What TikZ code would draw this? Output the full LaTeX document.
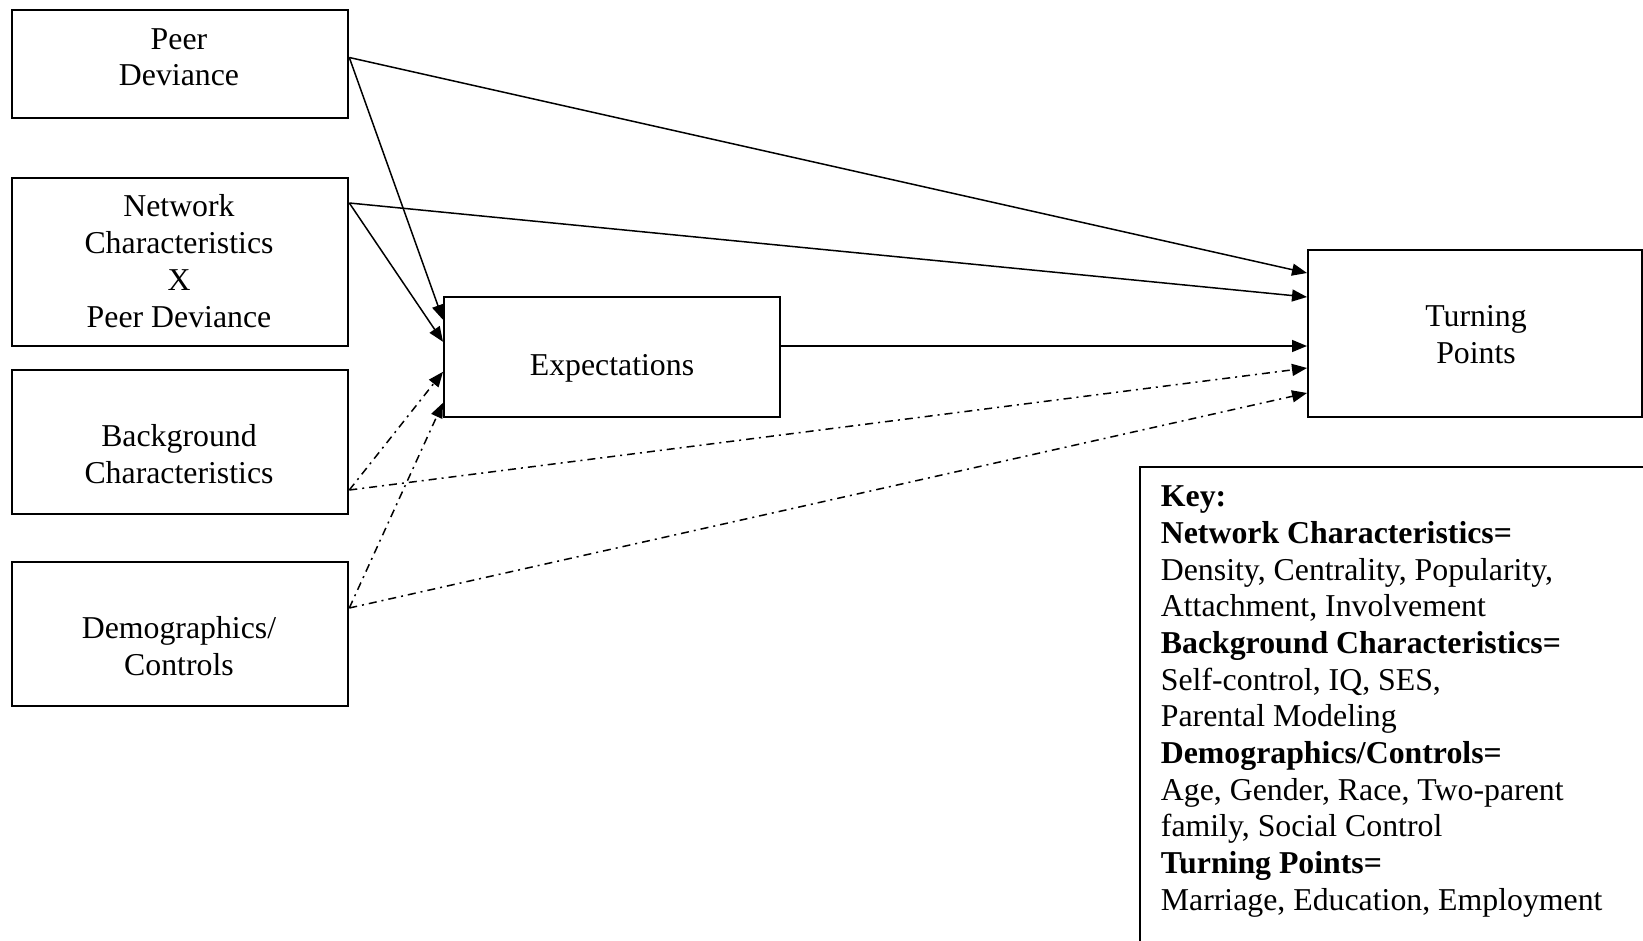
\documentclass[tikz,border=0pt]{standalone}
\usepackage{fontspec}
\setmainfont{Liberation Serif}
\usetikzlibrary{arrows.meta}
\begin{document}
\begin{tikzpicture}[x=1pt,y=-1pt,
  box/.style={draw,line width=2pt,rectangle,inner sep=0pt},
  txt/.style={align=center,font=\fontsize{31.8}{36.7}\selectfont,inner sep=0pt,anchor=base},
  keytxt/.style={font=\fontsize{31.8}{36.7}\selectfont,inner sep=0pt,anchor=base west},
  conn/.style={line width=1.5pt,-{Triangle[length=15pt,width=12pt]}},
  dd/.style={conn,dash pattern=on 8pt off 5pt on 2pt off 5pt}]
\clip (0,0) rectangle (1643,941);
\fill[white] (0,0) rectangle (1643,941);

% boxes
\node[box,minimum width=336.6pt,minimum height=108pt] (peer) at (180,64) {};
\node[box,minimum width=336.6pt,minimum height=168pt] (net) at (180,262) {};
\node[box,minimum width=336.6pt,minimum height=144pt] (bg) at (180,442) {};
\node[box,minimum width=336.6pt,minimum height=144pt] (demo) at (180,633.7) {};
\node[box,minimum width=336pt,minimum height=120pt] (exp) at (612,357.3) {};
\node[box,minimum width=334pt,minimum height=167pt] (tp) at (1475,333.5) {};
\draw[line width=2pt] (1700,466.5) -| (1140,1000);

% texts (anchor = baseline of last line)
\node[txt] (peerT) at (179,86) {Peer\\Deviance};
\node[txt] (netT) at (179,327) {Network\\Characteristics\\X\\Peer Deviance};
\node[txt] (bgT) at (179,483.3) {Background\\Characteristics};
\node[txt] (demoT) at (179,675) {Demographics/\\Controls};
\node[txt] (expT) at (612,375) {Expectations};
\node[txt] (tpT) at (1476,363.3) {Turning\\Points};

% key
\foreach \t [count=\i from 0] in {%
  {\bfseries Key:},
  {\bfseries Network Characteristics=},
  {Density, Centrality, Popularity,},
  {Attachment, Involvement},
  {\bfseries Background Characteristics=},
  {Self-control, IQ, SES,},
  {Parental Modeling},
  {\bfseries Demographics/Controls=},
  {Age, Gender, Race, Two-parent},
  {family, Social Control},
  {\bfseries Turning Points=},
  {Marriage, Education, Employment}}
  \node[keytxt] (k\i) at (1160.7,506.6+36.7*\i) {\t};

% solid connectors
\draw[conn] ([yshift=6.5pt]peer.east) -- ([yshift=37.5pt]exp.west);
\draw[conn] ([yshift=59pt]net.east) -- ([yshift=15.5pt]exp.west);
\draw[conn] ([yshift=6.5pt]peer.east) -- ([yshift=60.5pt]tp.west);
\draw[conn] ([yshift=59pt]net.east) -- ([yshift=36.5pt]tp.west);
\draw[conn] ([yshift=11.3pt]exp.east) -- ([yshift=-12.5pt]tp.west);

% dash-dot connectors
\draw[dd] ([yshift=-48pt]bg.east) -- ([yshift=-14.5pt]exp.west);
\draw[dd] ([yshift=25.7pt]demo.east) -- ([yshift=-45.5pt]exp.west);
\draw[dd] ([yshift=-48pt]bg.east) -- ([yshift=-34.5pt]tp.west);
\draw[dd] ([yshift=25.7pt]demo.east) -- ([yshift=-59.5pt]tp.west);
\end{tikzpicture}
\end{document}
